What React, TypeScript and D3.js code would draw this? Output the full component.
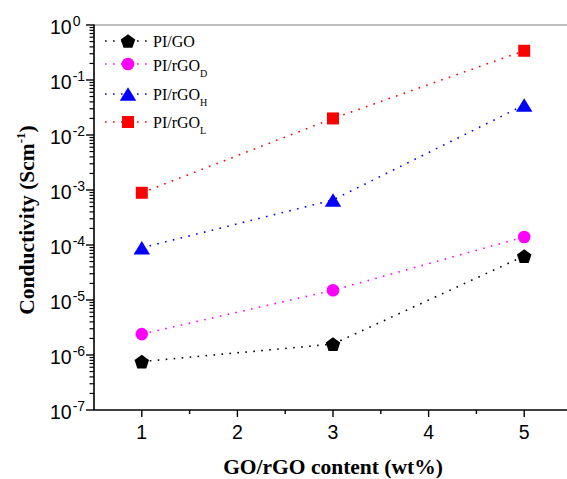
import React from "react";
import * as d3 from "d3";

const xValues = [1, 3, 5];
const seriesNames = ["PI/GO", "PI/rGO", "PI/rGO", "PI/rGO"];
const seriesSubs = ["", "D", "H", "L"];
const seriesColors = ["#000000", "#ff00ff", "#0000ff", "#ff0000"];
const seriesShapes = ["pentagon", "circle", "triangle", "square"];
const piGO = [7.6e-7, 1.58e-6, 6.3e-5];
const piRGOD = [2.4e-6, 1.5e-5, 1.4e-4];
const piRGOH = [8.9e-5, 6.6e-4, 3.5e-2];
const piRGOL = [8.9e-4, 2.0e-2, 0.34];
const seriesValues = [piGO, piRGOD, piRGOH, piRGOL];
const xTicks = [1, 2, 3, 4, 5];
const xMinorTicks = [1.5, 2.5, 3.5, 4.5];
const yExponents = [0, -1, -2, -3, -4, -5, -6, -7];
const xTitle = "GO/rGO content (wt%)";

const W = 567;
const H = 479;
const left = 94;
const top = 25;
const bottom = 410;
const xs = d3.scaleLinear().domain([0.5, 5.5]).range([left, left + 5 * 95.6]);
const ys = d3.scaleLog().domain([1e-7, 1]).range([bottom, top]);

function markerPath(shape: string): string {
  const p = d3.path();
  if (shape === "pentagon") {
    const r = 7.6;
    const dyc = (r - r * Math.cos(Math.PI / 5)) / 2;
    for (let i = 0; i < 5; i++) {
      const a = -Math.PI / 2 + (i * 2 * Math.PI) / 5;
      const px = r * Math.cos(a);
      const py = r * Math.sin(a) + dyc;
      if (i === 0) p.moveTo(px, py);
      else p.lineTo(px, py);
    }
    p.closePath();
  } else if (shape === "circle") {
    p.arc(0, 0, 6.3, 0, 2 * Math.PI);
    p.closePath();
  } else if (shape === "triangle") {
    const w = 16.5, h = 13.5;
    p.moveTo(0, -h / 2);
    p.lineTo(w / 2, h / 2);
    p.lineTo(-w / 2, h / 2);
    p.closePath();
  } else {
    const s = 12;
    p.rect(-s / 2, -s / 2, s, s);
  }
  return p.toString();
}

const legendMarkerY = [41, 64, 94, 122];
const legendTextY = [47, 70.5, 99.5, 128];

export default function App() {
  const line = d3
    .line<[number, number]>()
    .x((d) => xs(d[0]))
    .y((d) => ys(d[1]));

  const minorY: number[] = [];
  for (let e = -7; e < 0; e++) {
    for (let m = 2; m <= 9; m++) minorY.push(m * Math.pow(10, e));
  }

  return (
    <svg
      width={W}
      height={H}
      style={{ position: "absolute", left: 0, top: 0, background: "#fff" }}
    >
      <rect x={0} y={0} width={W} height={H} fill="#fff" />
      {/* top border */}
      <line x1={left} x2={W} y1={top} y2={top} stroke="#a8a8a8" strokeWidth={1.6} />
      {/* series lines */}
      {seriesValues.map((vals, i) => (
        <path
          key={"l" + i}
          d={line(xValues.map((x, j) => [x, vals[j]] as [number, number])) || ""}
          fill="none"
          stroke={seriesColors[i]}
          strokeWidth={1.6}
          strokeDasharray="1.6 6.4"
        />
      ))}
      {/* markers */}
      {seriesValues.map((vals, i) =>
        vals.map((v, j) => (
          <path
            key={"m" + i + "-" + j}
            d={markerPath(seriesShapes[i])}
            transform={`translate(${xs(xValues[j])},${ys(v)})`}
            fill={seriesColors[i]}
          />
        ))
      )}
      {/* axes */}
      <line x1={left} x2={left} y1={top - 0.5} y2={bottom} stroke="#000" strokeWidth={1.6} />
      <line x1={left} x2={W} y1={bottom} y2={bottom} stroke="#000" strokeWidth={1.6} />
      {xTicks.map((t) => (
        <g key={"xt" + t}>
          <line x1={xs(t)} x2={xs(t)} y1={bottom} y2={bottom + 7} stroke="#000" strokeWidth={1.4} />
          <text
            x={xs(t)}
            y={439}
            textAnchor="middle"
            fontFamily="'Liberation Sans', Arial, sans-serif"
            fontSize={19.5}
          >
            {t}
          </text>
        </g>
      ))}
      {xMinorTicks.map((t) => (
        <line key={"xm" + t} x1={xs(t)} x2={xs(t)} y1={bottom} y2={bottom + 4} stroke="#000" strokeWidth={1.4} />
      ))}
      {minorY.map((v, i) => (
        <line key={"ym" + i} x1={left - 4.5} x2={left} y1={ys(v)} y2={ys(v)} stroke="#000" strokeWidth={1.2} />
      ))}
      {yExponents.map((e) => (
        <g key={"yt" + e}>
          <line x1={left - 8} x2={left} y1={ys(Math.pow(10, e))} y2={ys(Math.pow(10, e))} stroke="#000" strokeWidth={1.4} />
          <text
            x={50}
            y={ys(Math.pow(10, e)) + 8.5}
            fontFamily="'Liberation Sans', Arial, sans-serif"
            fontSize={19.5}
          >
            10
            <tspan fontSize={14} dy={-8} dx={1}>
              {String(e).replace("-", "-")}
            </tspan>
          </text>
        </g>
      ))}
      {/* axis titles */}
      <text
        x={333}
        y={474}
        textAnchor="middle"
        fontFamily="'Liberation Serif', 'Times New Roman', serif"
        fontWeight="bold"
        fontSize={21.5}
      >
        {xTitle}
      </text>
      <text
        transform="translate(34,220) rotate(-90)"
        textAnchor="middle"
        fontFamily="'Liberation Serif', 'Times New Roman', serif"
        fontWeight="bold"
        fontSize={21.5}
      >
        Conductivity (Scm
        <tspan fontSize={13} dy={-9}>-1</tspan>
        <tspan dy={9}>)</tspan>
      </text>
      {/* legend */}
      {seriesNames.map((name, i) => (
        <g key={"lg" + i}>
          <line
            x1={105}
            x2={151}
            y1={legendMarkerY[i]}
            y2={legendMarkerY[i]}
            stroke={seriesColors[i]}
            strokeWidth={1.6}
            strokeDasharray="1.6 6.4"
          />
          <path
            d={markerPath(seriesShapes[i])}
            transform={`translate(128,${legendMarkerY[i]})`}
            fill={seriesColors[i]}
          />
          <text
            x={153}
            y={legendTextY[i]}
            fontFamily="'Liberation Serif', 'Times New Roman', serif"
            fontSize={16}
          >
            {name}
            {seriesSubs[i] ? (
              <tspan fontSize={10} dy={6}>
                {seriesSubs[i]}
              </tspan>
            ) : null}
          </text>
        </g>
      ))}
    </svg>
  );
}
